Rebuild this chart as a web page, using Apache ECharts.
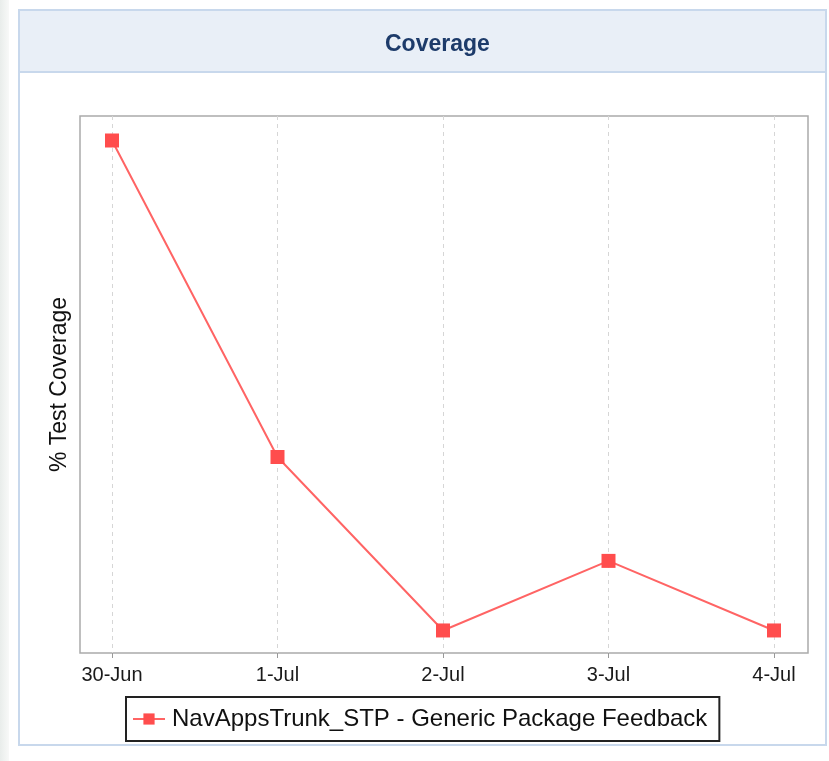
<!DOCTYPE html>
<html>
<head>
<meta charset="utf-8">
<script src="https://cdn.jsdelivr.net/npm/echarts@6/dist/echarts.min.js"></script>
<style>html,body{margin:0;padding:0;background:#fff}#c{width:829px;height:761px}</style>
</head>
<body>
<div id="c"></div>
<script>
const categories = ['30-Jun', '1-Jul', '2-Jul', '3-Jul', '4-Jul'];
const seriesName = 'NavAppsTrunk_STP - Generic Package Feedback';
const coverageValues = [70, 37.7, 20, 27.1, 20];
const yMin = 17.7;
const yMax = 72.5;

const chart = echarts.init(document.getElementById('c'), null, {renderer: 'canvas'});
const font = 'Liberation Sans, Arial, sans-serif';
chart.setOption({
  backgroundColor: '#ffffff',
  animation: false,
  graphic: [
    {type: 'rect', silent: true, z: -10, shape: {x: 0, y: 0, width: 9, height: 761},
     style: {fill: new echarts.graphic.LinearGradient(0, 0, 1, 0, [{offset: 0, color: '#e9edeb'}, {offset: 1, color: '#f8f9f8'}])}},
    {type: 'rect', silent: true, z: -9, shape: {x: 19, y: 10, width: 807, height: 735},
     style: {fill: '#ffffff', stroke: '#c8d8ec', lineWidth: 2}},
    {type: 'rect', silent: true, z: -8, shape: {x: 19, y: 10, width: 807, height: 62},
     style: {fill: '#e9eff7', stroke: '#c8d8ec', lineWidth: 2}}
  ],
  title: {
    text: 'Coverage',
    left: 380, top: 28,
    textStyle: {fontFamily: font, fontSize: 23, fontWeight: 'bold', color: '#1d3b6a'}
  },
  legend: {
    left: 126, top: 697,
    data: [seriesName],
    borderColor: '#222222', borderWidth: 2, borderRadius: 0,
    padding: [10, 12, 10, 6],
    itemWidth: 32, itemHeight: 14, itemGap: 0,
    backgroundColor: '#ffffff',
    textStyle: {fontFamily: font, fontSize: 24, color: '#111111', padding: [0, 0, 0, 2]}
  },
  grid: [
    {left: 80, top: 116, width: 728, height: 537, show: true, borderColor: '#ababab', borderWidth: 1.5, backgroundColor: 'transparent'},
    {left: 112, top: 116, width: 662, height: 537}
  ],
  xAxis: [
    {gridIndex: 0, type: 'value', show: false, min: 0, max: 1},
    {gridIndex: 1, type: 'category', data: categories, boundaryGap: false,
     axisLine: {show: false},
     axisTick: {show: true, inside: false, length: 5, alignWithLabel: true, lineStyle: {color: '#999999'}},
     splitLine: {show: true, lineStyle: {color: '#d6d6d6', type: [4, 4], width: 1}},
     axisLabel: {margin: 12, fontFamily: font, fontSize: 20, color: '#1a1a1a'}}
  ],
  yAxis: [
    {gridIndex: 0, type: 'value', min: 0, max: 1,
     axisLine: {show: false}, axisTick: {show: false}, axisLabel: {show: false}, splitLine: {show: false},
     name: '% Test Coverage', nameLocation: 'middle', nameGap: 9, nameRotate: 90,
     nameTextStyle: {fontFamily: font, fontSize: 23, color: '#111111'}},
    {gridIndex: 1, type: 'value', min: yMin, max: yMax,
     axisLine: {show: false}, axisTick: {show: false}, axisLabel: {show: false}, splitLine: {show: false}}
  ],
  series: [{
    name: seriesName,
    type: 'line',
    xAxisIndex: 1, yAxisIndex: 1,
    data: coverageValues,
    symbol: 'rect', symbolSize: 14,
    lineStyle: {color: '#ff6464', width: 2},
    itemStyle: {color: '#ff4d4d'}
  }]
});
</script>
</body>
</html>
